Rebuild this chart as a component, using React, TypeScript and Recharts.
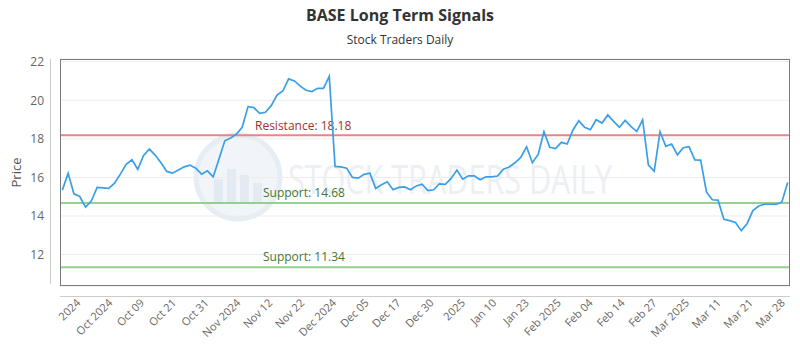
import React from "react"
import {
  LineChart,
  Line,
  XAxis,
  YAxis,
  CartesianGrid,
  ReferenceLine,
} from "recharts"

// closing prices, one per trading day
const prices = [
  15.34, 16.21, 15.15, 15.01, 14.46, 14.77, 15.48, 15.46, 15.43, 15.7,
  16.17, 16.68, 16.91, 16.42, 17.14, 17.47, 17.16, 16.76, 16.31, 16.22,
  16.38, 16.55, 16.64, 16.48, 16.17, 16.34, 16.03, 16.95, 17.9, 18.04,
  18.25, 18.6, 19.67, 19.62, 19.32, 19.38, 19.72, 20.27, 20.48, 21.11,
  21.0, 20.73, 20.52, 20.45, 20.62, 20.62, 21.24, 16.57, 16.55, 16.48,
  16.0, 15.96, 16.16, 16.22, 15.43, 15.62, 15.77, 15.36, 15.48, 15.51,
  15.36, 15.56, 15.65, 15.32, 15.36, 15.67, 15.64, 15.95, 16.38, 15.91,
  16.08, 16.08, 15.88, 16.03, 16.03, 16.07, 16.43, 16.54, 16.76, 17.04,
  17.59, 16.76, 17.19, 18.37, 17.56, 17.49, 17.82, 17.73, 18.46, 18.94,
  18.6, 18.47, 18.99, 18.82, 19.24, 18.91, 18.6, 18.96, 18.63, 18.39,
  18.98, 16.64, 16.33, 18.37, 17.61, 17.73, 17.17, 17.54, 17.59, 16.91,
  16.9, 15.25, 14.84, 14.82, 13.83, 13.76, 13.66, 13.24, 13.6, 14.28,
  14.52, 14.61, 14.61, 14.6, 14.73, 15.74,
]

const tickLabels = [
  "2024", "Oct 2024", "Oct 09", "Oct 21", "Oct 31", "Nov 2024", "Nov 12",
  "Nov 22", "Dec 2024", "Dec 05", "Dec 17", "Dec 30", "2025", "Jan 10",
  "Jan 23", "Feb 2025", "Feb 04", "Feb 14", "Feb 27", "Mar 2025", "Mar 11",
  "Mar 21", "Mar 28",
]
// position of each label, in trading-day index
const tickIndex = [
  2.3, 7.8, 13.3, 18.8, 24.4, 29.9, 35.4, 40.9, 46.4, 52.0, 57.5, 63.2,
  68.6, 74.0, 79.6, 85.1, 90.6, 96.1, 101.6, 107.2, 112.7, 118.2, 123.7,
]

const yTicks = [12, 14, 16, 18, 20, 22]
const resistance = 18.18
const supports = [14.68, 11.34]

const data = prices.map((price, i) => ({ i, price }))

const W = 800
const H = 350
const MARGIN = { top: 59, right: 10, bottom: 0, left: 10 }
const Y_AXIS_W = 50
const X_AXIS_H = 64
const plotLeft = MARGIN.left + Y_AXIS_W
const plotTop = MARGIN.top
const plotRight = W - MARGIN.right
const plotBottom = H - MARGIN.bottom - X_AXIS_H

const FONT = "'Open Sans', 'Noto Sans', sans-serif"

function refLabel(text: string, color: string, dx: number, dy: number) {
  // eslint-disable-next-line @typescript-eslint/no-explicit-any
  return (props: any) => {
    const vb = props.viewBox || {}
    return (
      <text
        x={vb.x + dx}
        y={vb.y + dy}
        fill={color}
        fontSize={12}
        fontFamily={FONT}
      >
        {text}
      </text>
    )
  }
}

function Watermark() {
  const cx = 238
  const cy = 177
  return (
    <svg width={W} height={H} style={{ position: "absolute", left: 0, top: 0 }}>
      <circle cx={cx} cy={cy} r={42} fill="#f1f5f9" stroke="#e6edf4" strokeWidth={5} />
      <rect x={cx - 24} y={cy + 2} width={9} height={24} fill="#e3eaf1" />
      <rect x={cx - 11} y={cy - 8} width={9} height={34} fill="#e3eaf1" />
      <rect x={cx + 2} y={cy - 2} width={9} height={28} fill="#e3eaf1" />
      <rect x={cx + 15} y={cy + 6} width={9} height={20} fill="#e3eaf1" />
      <text
        x={288}
        y={194}
        fontSize={40}
        fontFamily={FONT}
        fill="#eceff3"
        textLength={324}
        lengthAdjust="spacingAndGlyphs"
      >
        STOCK TRADERS DAILY
      </text>
    </svg>
  )
}

function Frame() {
  return (
    <svg
      width={W}
      height={H}
      style={{ position: "absolute", left: 0, top: 0, pointerEvents: "none" }}
    >
      <text
        x={W / 2}
        y={21}
        textAnchor="middle"
        fontSize={16}
        fontWeight="bold"
        fill="#333"
        fontFamily={FONT}
      >
        BASE Long Term Signals
      </text>
      <text
        x={W / 2}
        y={44}
        textAnchor="middle"
        fontSize={12}
        fill="#333"
        fontFamily={FONT}
      >
        Stock Traders Daily
      </text>
      <text
        x={0}
        y={0}
        transform={`translate(21 ${(plotTop + plotBottom) / 2}) rotate(-90)`}
        textAnchor="middle"
        fontSize={13}
        fill="#555"
        fontFamily={FONT}
      >
        Price
      </text>
      <rect
        x={plotLeft + 0.5}
        y={plotTop + 0.5}
        width={plotRight - plotLeft - 1}
        height={plotBottom - plotTop - 1}
        fill="none"
        stroke="#7a7a7a"
      />
      <line x1={plotLeft - 9.5} x2={plotLeft - 9.5} y1={plotTop} y2={plotBottom - 2} stroke="#ccc" />
      <line x1={plotLeft} x2={plotRight} y1={plotBottom + 10.5} y2={plotBottom + 10.5} stroke="#ccc" />
    </svg>
  )
}

export default function App() {
  return (
    <div
      style={{
        position: "absolute",
        left: 0,
        top: 0,
        width: W,
        height: H,
        background: "#fff",
        fontFamily: FONT,
      }}
    >
      <Watermark />
      <div style={{ position: "absolute", left: 0, top: 0 }}>
        <LineChart width={W} height={H} data={data} margin={MARGIN}>
          <CartesianGrid vertical={false} stroke="#ececec" />
          <XAxis
            type="number"
            dataKey="i"
            domain={[-0.4, 125.4]}
            ticks={tickIndex}
            interval={0}
            allowDataOverflow
            tickFormatter={(v: number) => tickLabels[tickIndex.indexOf(v)] ?? ""}
            angle={-45}
            textAnchor="end"
            tickLine={false}
            axisLine={false}
            tickMargin={6}
            height={X_AXIS_H}
            tick={{ fill: "#666", fontSize: 11, fontFamily: FONT }}
          />
          <YAxis
            type="number"
            domain={[10.37, 22.14]}
            ticks={yTicks}
            allowDataOverflow
            tickLine={false}
            axisLine={false}
            tickMargin={10}
            width={Y_AXIS_W}
            tick={{ fill: "#666", fontSize: 12, fontFamily: FONT }}
          />
          <ReferenceLine
            y={resistance}
            stroke="#e58585"
            strokeWidth={2}
            label={refLabel(`Resistance: ${resistance}`, "#9e2f2f", 195, -5)}
          />
          {supports.map((s) => (
            <ReferenceLine
              key={s}
              y={s}
              stroke="#95d08f"
              strokeWidth={2}
              label={refLabel(`Support: ${s}`, "#3f7a31", 203, -6)}
            />
          ))}
          <Line
            type="linear"
            dataKey="price"
            stroke="#3a9fe6"
            strokeWidth={1.7}
            dot={false}
            isAnimationActive={false}
          />
        </LineChart>
      </div>
      <Frame />
    </div>
  )
}
